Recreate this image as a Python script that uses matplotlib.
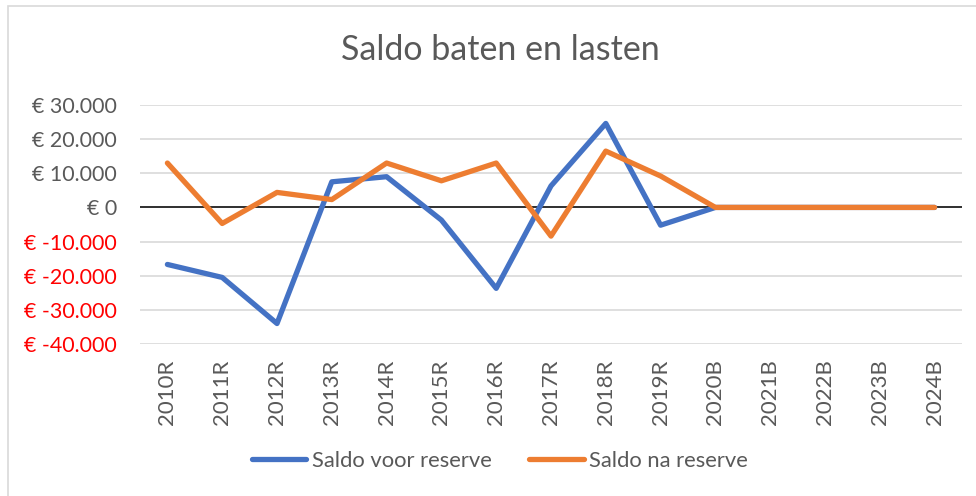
import matplotlib
matplotlib.use("Agg")
import matplotlib.pyplot as plt
from matplotlib.patches import Rectangle

plt.rcParams['font.family'] = ['Lato', 'DejaVu Sans']

# jaren: R = realisatie, B = begroting
jaren = ['2010R', '2011R', '2012R', '2013R', '2014R', '2015R', '2016R', '2017R',
         '2018R', '2019R', '2020B', '2021B', '2022B', '2023B', '2024B']
voor_reserve = [-16700, -20500, -34000, 7500, 9000, -3700, -23700, 6300,
                24600, -5200, 0, 0, 0, 0, 0]
na_reserve = [13000, -4700, 4400, 2300, 13000, 7800, 13000, -8400,
              16500, 9200, 0, 0, 0, 0, 0]
y_ticks = [-40000, -30000, -20000, -10000, 0, 10000, 20000, 30000]

blauw = '#4472C4'
oranje = '#ED7D31'
grijs = '#595959'

fig = plt.figure(figsize=(9.76, 4.96), dpi=100)
ax = fig.add_axes([140 / 976, 1 - 344 / 496, 822 / 976, 239 / 496])

# rand om de grafiek
fig.patches.append(Rectangle((8 / 976, -0.1), 1.2, 1.1 - 6 / 496, transform=fig.transFigure,
                             fill=False, edgecolor='#D9D9D9', linewidth=1.2))

x = range(len(jaren))
ax.plot(x, voor_reserve, color=blauw, lw=3.8, solid_capstyle='round', solid_joinstyle='round',
        label='Saldo voor reserve', zorder=3)
ax.plot(x, na_reserve, color=oranje, lw=3.8, solid_capstyle='round', solid_joinstyle='round',
        label='Saldo na reserve', zorder=4)

ax.set_xlim(-0.5, len(jaren) - 0.5)
ax.set_ylim(-40000, 30000)
ax.set_yticks(y_ticks)
ax.set_yticklabels(['€ ' + f'{v:,}'.replace(',', '.') for v in y_ticks])
for lbl, v in zip(ax.get_yticklabels(), y_ticks):
    lbl.set_color('#FF0000' if v < 0 else grijs)

ax.set_xticks(list(x))
ax.set_xticklabels(jaren, rotation=90, color=grijs)
ax.tick_params(axis='x', length=0, pad=11, labelsize=16)
ax.tick_params(axis='y', length=0, pad=16.5, labelsize=15.4)

ax.grid(axis='y', color='#D9D9D9', lw=1.2, zorder=0)
ax.axhline(0, color='black', lw=1.1, zorder=2)
for s in ax.spines.values():
    s.set_visible(False)

fig.text(500 / 976, 1 - 50 / 496, 'Saldo baten en lasten', ha='center', va='center',
         fontsize=24.5, color=grijs)

fig.legend(loc='center', bbox_to_anchor=(500 / 976, 1 - 461 / 496), ncol=2, frameon=False,
           fontsize=15.8, handlelength=2.5, handletextpad=0.25, columnspacing=1.7,
           labelcolor=grijs)

fig.savefig('out.png', dpi=100)
